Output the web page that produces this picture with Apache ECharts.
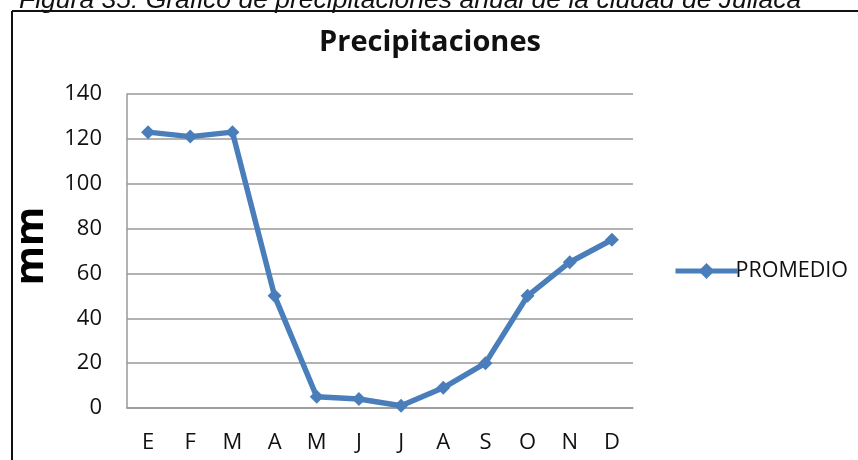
<!DOCTYPE html>
<html><head><meta charset="utf-8">
<script src="https://cdn.jsdelivr.net/npm/echarts@6/dist/echarts.min.js"></script>
<style>html,body{margin:0;padding:0;background:#fff}#c{width:858px;height:460px}</style>
</head><body><div id="c"></div>
<script>
const months = ['E','F','M','A','M','J','J','A','S','O','N','D'];
const promedio = [123, 121, 123, 50, 5, 4, 1, 9, 20, 50, 65, 75];
const seriesName = 'PROMEDIO';
const chartTitle = 'Precipitaciones';
const yName = 'mm';
const caption = 'Figura 35: Gráfico de precipitaciones anual de la ciudad de Juliaca';

const chart = echarts.init(document.getElementById('c'));
const font = '"Open Sans", Lato, sans-serif';
chart.setOption({
  animation: false,
  backgroundColor: '#fff',
  title: {
    text: chartTitle, left: 425, top: 23, textAlign: 'center',
    textStyle: {fontFamily: font, fontWeight: 'bold', fontSize: 29, color: '#111'}
  },
  graphic: [
    {type: 'text', left: 19, top: -13, style: {text: caption, font: 'italic 26.5px "Liberation Sans", Arial, sans-serif', fill: '#111'}},
    {type: 'line', shape: {x1: 12, y1: 11, x2: 858, y2: 11}, style: {stroke: '#111', lineWidth: 2}},
    {type: 'line', shape: {x1: 12, y1: 11, x2: 12, y2: 460}, style: {stroke: '#111', lineWidth: 2}},
    {type: 'text', x: 32, y: 246, rotation: Math.PI / 2, style: {text: yName, font: 'bold 40px "Open Sans", sans-serif', fill: '#000', align: 'center', verticalAlign: 'middle'}}
  ],
  legend: {
    data: [seriesName], left: 668, top: 255, itemWidth: 62, itemHeight: 20, itemGap: 0,
    lineStyle: {width: 5},
    textStyle: {fontFamily: font, fontSize: 21.5, color: '#111', padding: [0, 0, 0, -7]}
  },
  grid: {left: 127, right: 225, top: 94, bottom: 52},
  xAxis: {
    type: 'category', data: months, boundaryGap: true,
    axisLine: {lineStyle: {color: '#999', width: 1.5}},
    axisTick: {show: false},
    axisLabel: {fontFamily: font, fontSize: 22, color: '#111', margin: 24}
  },
  yAxis: {
    type: 'value', min: 0, max: 140, interval: 20,
    axisLine: {show: true, lineStyle: {color: '#999', width: 1.5}},
    axisTick: {show: false},
    splitLine: {lineStyle: {color: '#999', width: 1.5}},
    axisLabel: {fontFamily: font, fontSize: 22, color: '#111', margin: 25}
  },
  series: [{
    name: seriesName, type: 'line', data: promedio,
    symbol: 'diamond', symbolSize: 14,
    lineStyle: {color: '#4a7ebb', width: 5.5},
    itemStyle: {color: '#4a7ebb'}
  }]
});
</script></body></html>
